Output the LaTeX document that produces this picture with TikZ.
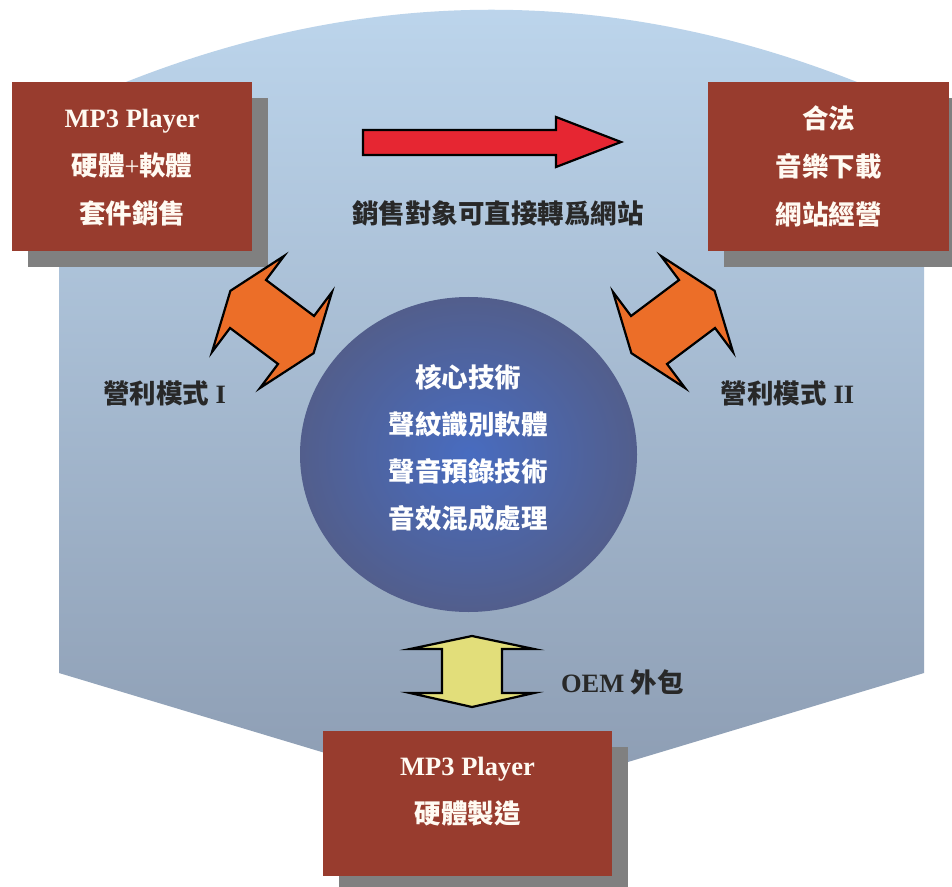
\documentclass[tikz,border=0pt]{standalone}
\usepackage{fontspec}
\setmainfont{Liberation Serif}
\newfontfamily\cjk{Noto Sans CJK TC}
\usepackage{xcolor}
\usetikzlibrary{shapes.geometric, shadows}

\definecolor{boxred}{RGB}{152,60,46}
\definecolor{boxtext}{RGB}{255,250,242}
\definecolor{shadowgray}{RGB}{128,128,128}
\definecolor{bgtop}{RGB}{190,215,238}
\definecolor{bgbottom}{RGB}{140,156,178}
\definecolor{coreinner}{RGB}{72,108,192}
\definecolor{coreouter}{RGB}{82,94,140}
\definecolor{arrowred}{RGB}{230,38,50}
\definecolor{arroworange}{RGB}{236,110,40}
\definecolor{arrowyellow}{RGB}{226,222,122}
\definecolor{darktext}{RGB}{40,40,40}

\newcommand\zh[1]{{\cjk #1}}
\newcommand\cjkstrut{\vphantom{\cjk 國}}

\tikzset{
    boxlabel/.style={text=boxtext, align=center, inner sep=0pt,
        font=\fontsize{13.25}{24}\selectfont\bfseries},
    salesbox/.style={boxlabel, fill=boxred,
        general shadow={fill=shadowgray, shadow xshift=8pt, shadow yshift=-8pt}},
    core/.style={ellipse, minimum width=168.5pt, minimum height=157.5pt,
        inner color=coreinner, outer color=coreouter},
    label/.style={text=darktext, inner sep=0pt, font=\fontsize{13.25}{24}\selectfont\bfseries},
    blockarrow/.style={draw=black, line width=1.1pt, line join=miter}
}

\begin{document}
\begin{tikzpicture}[x=0.5pt, y=-0.5pt]
    \fill[white, use as bounding box] (0,0) rectangle (952,887);

    % background
    \shade[top color=bgtop, bottom color=bgbottom]
    (59,111) .. controls (347,-24) and (636,-24) .. (924,111)
    -- (924,673) -- (491.5,803) -- (59,673) -- cycle;

    \node[salesbox, minimum width=120pt, minimum height=84.5pt] (player) at (132,166.5)
        {MP3 Player\cjkstrut\\ \zh{硬體}{\mdseries+}\zh{軟體}\\ \zh{套件銷售}};
    \node[salesbox, minimum width=120.5pt, minimum height=84.5pt] (music) at (828.5,166.5)
        {\zh{合法}\\ \zh{音樂下載}\\ \zh{網站經營}};
    \node[salesbox, minimum width=144.5pt, minimum height=72.5pt] (maker) at (467.5,803.5) {};
    \node[boxlabel] (makertext) at (467.5,790.5)
        {MP3 Player\cjkstrut\\ \zh{硬體製造}};

    \node[core] (core) at (468.5,454.5) {};
    \node[text=white, align=center, inner sep=0pt, font=\fontsize{13.25}{23.5}\selectfont\bfseries]
        (coretext) at (468,447.5)
        {\zh{核心技術}\\ \zh{聲紋識別軟體}\\ \zh{聲音預錄技術}\\ \zh{音效混成處理}};

    % arrows
    \draw[blockarrow, fill=arrowred]
    (363,130) -- (556,130) -- (556,117) -- (621,142) -- (556,167) -- (556,155) -- (363,155) -- cycle;
    \foreach \cx/\ang in {272/-36.87, 673/36.87}
        \draw[blockarrow, fill=arroworange, shift={(\cx,322)}, rotate=\ang]
        (-30,30) -- (-30,60) -- (-52,0) -- (-30,-60) -- (-30,-30)
        -- (30,-30) -- (30,-60) -- (52,0) -- (30,60) -- (30,30) -- cycle;
    \draw[blockarrow, fill=arrowyellow]
    (442,649) -- (410,649) -- (472,636) -- (534,649) -- (502,649)
    -- (502,693) -- (534,693) -- (472,707) -- (410,693) -- (442,693) -- cycle;

    \node[label] (target) at (498,213) {\zh{銷售對象可直接轉爲網站}};
    \node[label] (modeone) at (164.5,393) {\zh{營利模式} I};
    \node[label] (modetwo) at (787.5,393) {\zh{營利模式} II};
    \node[label] (oem) at (622.5,682) {OEM \zh{外包}};
\end{tikzpicture}
\end{document}
